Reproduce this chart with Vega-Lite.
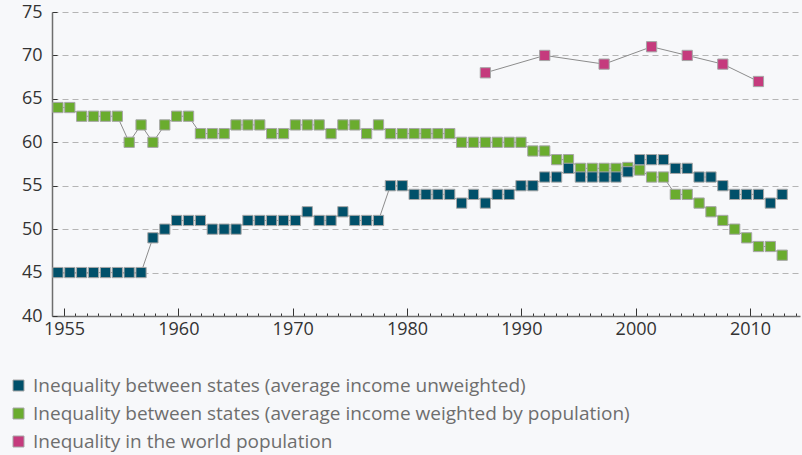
{
  "$schema": "https://vega.github.io/schema/vega-lite/v6.json",
  "width": 748,
  "height": 304,
  "autosize": {"type": "none"},
  "padding": {"left": 52, "top": 12, "right": 2, "bottom": 139},
  "background": "#f7f8fa",
  "config": {"view": {"stroke": null}, "font": "Open Sans"},
  "data": {"values": [
    {"year":1952,"value":64,"series":"Inequality between states (average income weighted by population)"},
    {"year":1953,"value":64,"series":"Inequality between states (average income weighted by population)"},
    {"year":1954,"value":63,"series":"Inequality between states (average income weighted by population)"},
    {"year":1955,"value":63,"series":"Inequality between states (average income weighted by population)"},
    {"year":1956,"value":63,"series":"Inequality between states (average income weighted by population)"},
    {"year":1957,"value":63,"series":"Inequality between states (average income weighted by population)"},
    {"year":1958,"value":60,"series":"Inequality between states (average income weighted by population)"},
    {"year":1959,"value":62,"series":"Inequality between states (average income weighted by population)"},
    {"year":1960,"value":60,"series":"Inequality between states (average income weighted by population)"},
    {"year":1961,"value":62,"series":"Inequality between states (average income weighted by population)"},
    {"year":1962,"value":63,"series":"Inequality between states (average income weighted by population)"},
    {"year":1963,"value":63,"series":"Inequality between states (average income weighted by population)"},
    {"year":1964,"value":61,"series":"Inequality between states (average income weighted by population)"},
    {"year":1965,"value":61,"series":"Inequality between states (average income weighted by population)"},
    {"year":1966,"value":61,"series":"Inequality between states (average income weighted by population)"},
    {"year":1967,"value":62,"series":"Inequality between states (average income weighted by population)"},
    {"year":1968,"value":62,"series":"Inequality between states (average income weighted by population)"},
    {"year":1969,"value":62,"series":"Inequality between states (average income weighted by population)"},
    {"year":1970,"value":61,"series":"Inequality between states (average income weighted by population)"},
    {"year":1971,"value":61,"series":"Inequality between states (average income weighted by population)"},
    {"year":1972,"value":62,"series":"Inequality between states (average income weighted by population)"},
    {"year":1973,"value":62,"series":"Inequality between states (average income weighted by population)"},
    {"year":1974,"value":62,"series":"Inequality between states (average income weighted by population)"},
    {"year":1975,"value":61,"series":"Inequality between states (average income weighted by population)"},
    {"year":1976,"value":62,"series":"Inequality between states (average income weighted by population)"},
    {"year":1977,"value":62,"series":"Inequality between states (average income weighted by population)"},
    {"year":1978,"value":61,"series":"Inequality between states (average income weighted by population)"},
    {"year":1979,"value":62,"series":"Inequality between states (average income weighted by population)"},
    {"year":1980,"value":61,"series":"Inequality between states (average income weighted by population)"},
    {"year":1981,"value":61,"series":"Inequality between states (average income weighted by population)"},
    {"year":1982,"value":61,"series":"Inequality between states (average income weighted by population)"},
    {"year":1983,"value":61,"series":"Inequality between states (average income weighted by population)"},
    {"year":1984,"value":61,"series":"Inequality between states (average income weighted by population)"},
    {"year":1985,"value":61,"series":"Inequality between states (average income weighted by population)"},
    {"year":1986,"value":60,"series":"Inequality between states (average income weighted by population)"},
    {"year":1987,"value":60,"series":"Inequality between states (average income weighted by population)"},
    {"year":1988,"value":60,"series":"Inequality between states (average income weighted by population)"},
    {"year":1989,"value":60,"series":"Inequality between states (average income weighted by population)"},
    {"year":1990,"value":60,"series":"Inequality between states (average income weighted by population)"},
    {"year":1991,"value":60,"series":"Inequality between states (average income weighted by population)"},
    {"year":1992,"value":59,"series":"Inequality between states (average income weighted by population)"},
    {"year":1993,"value":59,"series":"Inequality between states (average income weighted by population)"},
    {"year":1994,"value":58,"series":"Inequality between states (average income weighted by population)"},
    {"year":1995,"value":58,"series":"Inequality between states (average income weighted by population)"},
    {"year":1996,"value":57,"series":"Inequality between states (average income weighted by population)"},
    {"year":1997,"value":57,"series":"Inequality between states (average income weighted by population)"},
    {"year":1998,"value":57,"series":"Inequality between states (average income weighted by population)"},
    {"year":1999,"value":57,"series":"Inequality between states (average income weighted by population)"},
    {"year":2000,"value":57.1,"series":"Inequality between states (average income weighted by population)"},
    {"year":2001,"value":56.8,"series":"Inequality between states (average income weighted by population)"},
    {"year":2002,"value":56,"series":"Inequality between states (average income weighted by population)"},
    {"year":2003,"value":56,"series":"Inequality between states (average income weighted by population)"},
    {"year":2004,"value":54,"series":"Inequality between states (average income weighted by population)"},
    {"year":2005,"value":54,"series":"Inequality between states (average income weighted by population)"},
    {"year":2006,"value":53,"series":"Inequality between states (average income weighted by population)"},
    {"year":2007,"value":52,"series":"Inequality between states (average income weighted by population)"},
    {"year":2008,"value":51,"series":"Inequality between states (average income weighted by population)"},
    {"year":2009,"value":50,"series":"Inequality between states (average income weighted by population)"},
    {"year":2010,"value":49,"series":"Inequality between states (average income weighted by population)"},
    {"year":2011,"value":48,"series":"Inequality between states (average income weighted by population)"},
    {"year":2012,"value":48,"series":"Inequality between states (average income weighted by population)"},
    {"year":2013,"value":47,"series":"Inequality between states (average income weighted by population)"},
    {"year":1952,"value":45,"series":"Inequality between states (average income unweighted)"},
    {"year":1953,"value":45,"series":"Inequality between states (average income unweighted)"},
    {"year":1954,"value":45,"series":"Inequality between states (average income unweighted)"},
    {"year":1955,"value":45,"series":"Inequality between states (average income unweighted)"},
    {"year":1956,"value":45,"series":"Inequality between states (average income unweighted)"},
    {"year":1957,"value":45,"series":"Inequality between states (average income unweighted)"},
    {"year":1958,"value":45,"series":"Inequality between states (average income unweighted)"},
    {"year":1959,"value":45,"series":"Inequality between states (average income unweighted)"},
    {"year":1960,"value":49,"series":"Inequality between states (average income unweighted)"},
    {"year":1961,"value":50,"series":"Inequality between states (average income unweighted)"},
    {"year":1962,"value":51,"series":"Inequality between states (average income unweighted)"},
    {"year":1963,"value":51,"series":"Inequality between states (average income unweighted)"},
    {"year":1964,"value":51,"series":"Inequality between states (average income unweighted)"},
    {"year":1965,"value":50,"series":"Inequality between states (average income unweighted)"},
    {"year":1966,"value":50,"series":"Inequality between states (average income unweighted)"},
    {"year":1967,"value":50,"series":"Inequality between states (average income unweighted)"},
    {"year":1968,"value":51,"series":"Inequality between states (average income unweighted)"},
    {"year":1969,"value":51,"series":"Inequality between states (average income unweighted)"},
    {"year":1970,"value":51,"series":"Inequality between states (average income unweighted)"},
    {"year":1971,"value":51,"series":"Inequality between states (average income unweighted)"},
    {"year":1972,"value":51,"series":"Inequality between states (average income unweighted)"},
    {"year":1973,"value":52,"series":"Inequality between states (average income unweighted)"},
    {"year":1974,"value":51,"series":"Inequality between states (average income unweighted)"},
    {"year":1975,"value":51,"series":"Inequality between states (average income unweighted)"},
    {"year":1976,"value":52,"series":"Inequality between states (average income unweighted)"},
    {"year":1977,"value":51,"series":"Inequality between states (average income unweighted)"},
    {"year":1978,"value":51,"series":"Inequality between states (average income unweighted)"},
    {"year":1979,"value":51,"series":"Inequality between states (average income unweighted)"},
    {"year":1980,"value":55,"series":"Inequality between states (average income unweighted)"},
    {"year":1981,"value":55,"series":"Inequality between states (average income unweighted)"},
    {"year":1982,"value":54,"series":"Inequality between states (average income unweighted)"},
    {"year":1983,"value":54,"series":"Inequality between states (average income unweighted)"},
    {"year":1984,"value":54,"series":"Inequality between states (average income unweighted)"},
    {"year":1985,"value":54,"series":"Inequality between states (average income unweighted)"},
    {"year":1986,"value":53,"series":"Inequality between states (average income unweighted)"},
    {"year":1987,"value":54,"series":"Inequality between states (average income unweighted)"},
    {"year":1988,"value":53,"series":"Inequality between states (average income unweighted)"},
    {"year":1989,"value":54,"series":"Inequality between states (average income unweighted)"},
    {"year":1990,"value":54,"series":"Inequality between states (average income unweighted)"},
    {"year":1991,"value":55,"series":"Inequality between states (average income unweighted)"},
    {"year":1992,"value":55,"series":"Inequality between states (average income unweighted)"},
    {"year":1993,"value":56,"series":"Inequality between states (average income unweighted)"},
    {"year":1994,"value":56,"series":"Inequality between states (average income unweighted)"},
    {"year":1995,"value":57,"series":"Inequality between states (average income unweighted)"},
    {"year":1996,"value":56,"series":"Inequality between states (average income unweighted)"},
    {"year":1997,"value":56,"series":"Inequality between states (average income unweighted)"},
    {"year":1998,"value":56,"series":"Inequality between states (average income unweighted)"},
    {"year":1999,"value":56,"series":"Inequality between states (average income unweighted)"},
    {"year":2000,"value":56.6,"series":"Inequality between states (average income unweighted)"},
    {"year":2001,"value":58,"series":"Inequality between states (average income unweighted)"},
    {"year":2002,"value":58,"series":"Inequality between states (average income unweighted)"},
    {"year":2003,"value":58,"series":"Inequality between states (average income unweighted)"},
    {"year":2004,"value":57,"series":"Inequality between states (average income unweighted)"},
    {"year":2005,"value":57,"series":"Inequality between states (average income unweighted)"},
    {"year":2006,"value":56,"series":"Inequality between states (average income unweighted)"},
    {"year":2007,"value":56,"series":"Inequality between states (average income unweighted)"},
    {"year":2008,"value":55,"series":"Inequality between states (average income unweighted)"},
    {"year":2009,"value":54,"series":"Inequality between states (average income unweighted)"},
    {"year":2010,"value":54,"series":"Inequality between states (average income unweighted)"},
    {"year":2011,"value":54,"series":"Inequality between states (average income unweighted)"},
    {"year":2012,"value":53,"series":"Inequality between states (average income unweighted)"},
    {"year":2013,"value":54,"series":"Inequality between states (average income unweighted)"},
    {"year":1988,"value":68,"series":"Inequality in the world population"},
    {"year":1993,"value":70,"series":"Inequality in the world population"},
    {"year":1998,"value":69,"series":"Inequality in the world population"},
    {"year":2002,"value":71,"series":"Inequality in the world population"},
    {"year":2005,"value":70,"series":"Inequality in the world population"},
    {"year":2008,"value":69,"series":"Inequality in the world population"},
    {"year":2011,"value":67,"series":"Inequality in the world population"}
  ]},
  "encoding": {
    "y": {
      "field": "value", "type": "quantitative",
      "scale": {"domain": [40, 75], "nice": false, "zero": false},
      "axis": {
        "title": null, "values": [40, 45, 50, 55, 60, 65, 70, 75],
        "grid": true, "gridColor": "#b5b5b5", "gridDash": [6, 4], "gridWidth": 1,
        "tickSize": -5, "tickColor": "#333333", "tickWidth": 1,
        "domainColor": "#6e6e6e", "domainWidth": 1.5,
        "labelFontSize": 18, "labelColor": "#333333", "labelPadding": 15
      }
    }
  },
  "layer": [
    {
      "mark": {"type": "line", "color": "#8c8c8c", "strokeWidth": 1},
      "encoding": {
        "x": {
          "field": "year", "type": "quantitative",
          "scale": {"domain": [1951.5, 2014.5], "nice": false, "zero": false},
          "axis": {
            "orient": "bottom", "title": null, "labels": false, "domain": false, "grid": false,
            "tickSize": -3, "tickColor": "#333333", "tickWidth": 1,
            "values": [1952.51,1953.47,1954.44,1955.40,1956.36,1957.33,1958.29,1959.25,1960.21,1961.18,1962.14,1963.10,1964.07,1965.03,1965.99,1966.96,1967.92,1968.88,1969.84,1970.81,1971.77,1972.73,1973.70,1974.66,1975.62,1976.59,1977.55,1978.51,1979.47,1980.44,1981.40,1982.36,1983.33,1984.29,1985.25,1986.22,1987.18,1988.14,1989.10,1990.07,1991.03,1991.99,1992.96,1993.92,1994.88,1995.85,1996.81,1997.77,1998.73,1999.70,2000.66,2001.62,2002.59,2003.55,2004.51,2005.48,2006.44,2007.40,2008.36,2009.33,2010.29,2011.25,2012.22,2013.18,2014.14]
          }
        },
        "detail": {"field": "series"}
      }
    },
    {
      "mark": {"type": "point", "shape": "square", "filled": true, "size": 105, "stroke": "#a6a6a6", "strokeWidth": 1, "opacity": 1},
      "encoding": {
        "x": {
          "field": "year", "type": "quantitative",
          "scale": {"domain": [1951.5, 2014.5], "nice": false, "zero": false},
          "axis": {
            "orient": "bottom", "title": null, "grid": false,
            "values": [1952.51, 1962.14, 1971.77, 1981.40, 1991.03, 2000.66, 2010.29],
            "labelExpr": "['1955','1960','1970','1980','1990','2000','2010'][round(datum.index * 6)]",
            "tickSize": -8, "tickColor": "#333333", "tickWidth": 1,
            "domainColor": "#6e6e6e", "domainWidth": 1.5,
            "labelFontSize": 18, "labelColor": "#333333", "labelPadding": 12,
            "labelFlush": false, "labelOverlap": false
          }
        },
        "color": {
          "field": "series", "type": "nominal",
          "scale": {
            "domain": ["Inequality between states (average income unweighted)", "Inequality between states (average income weighted by population)", "Inequality in the world population"],
            "range": ["#00506a", "#6aac2e", "#c53b7d"]
          },
          "legend": {
            "orient": "none", "legendX": -43, "legendY": 364, "title": null,
            "padding": 0, "symbolType": "square", "symbolSize": 121,
            "symbolStrokeColor": "#a6a6a6", "symbolStrokeWidth": 1, "symbolOpacity": 1,
            "labelFontSize": 19, "labelColor": "#6e6e6e", "labelOffset": 5,
            "rowPadding": 8, "labelLimit": 760
          }
        }
      }
    }
  ],
  "resolve": {"axis": {"x": "independent"}}
}
